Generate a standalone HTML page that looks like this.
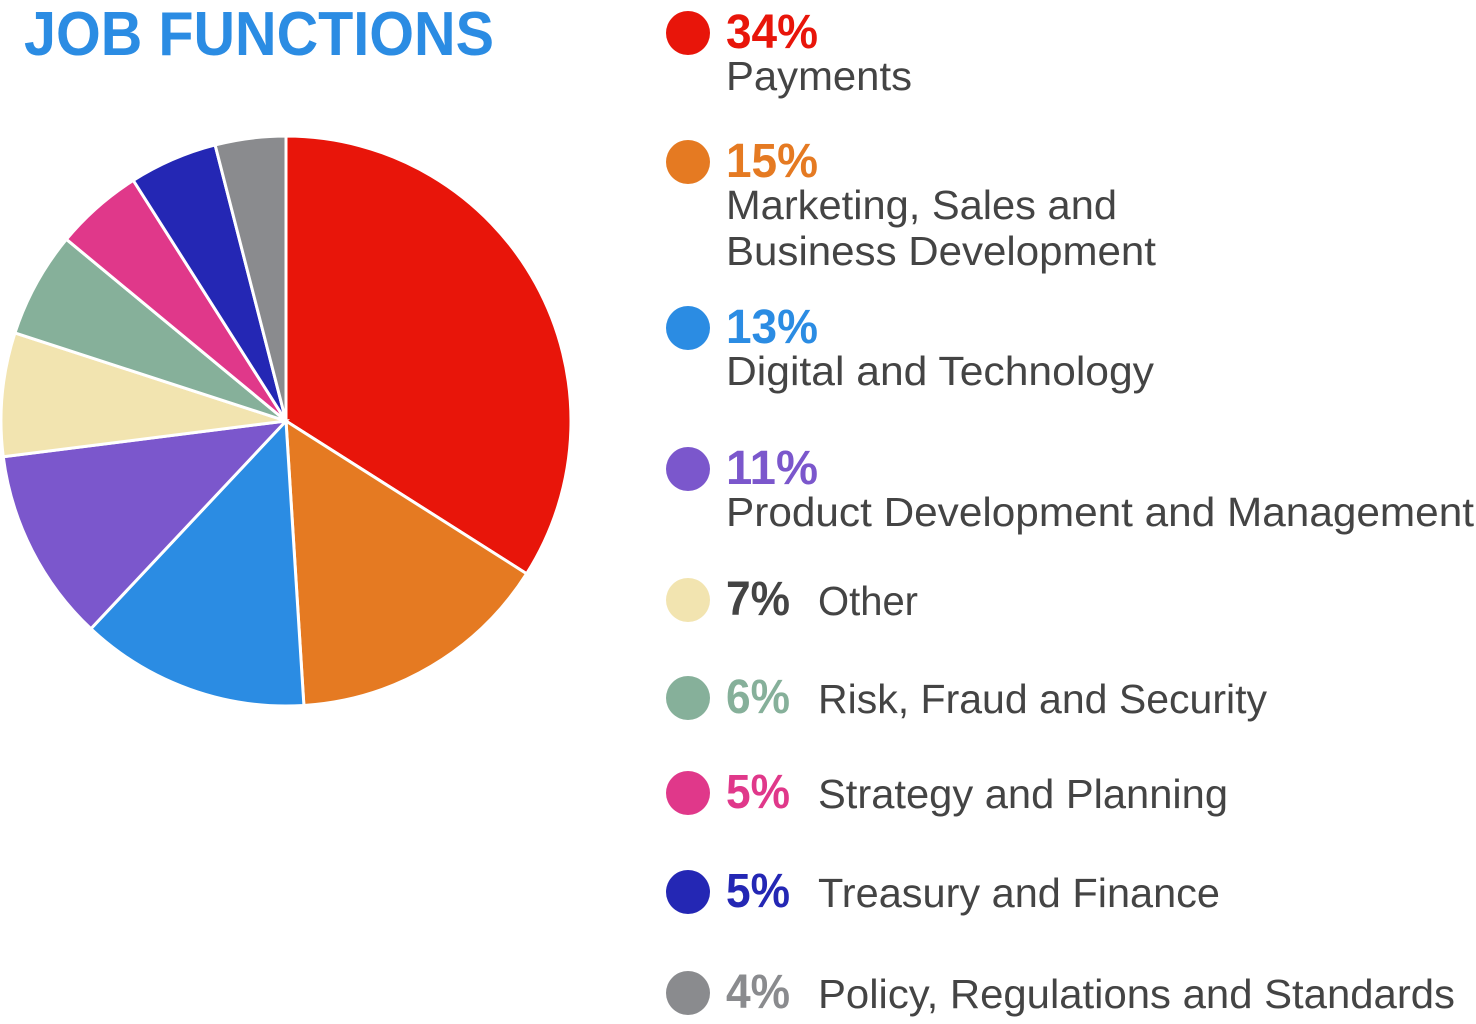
<!DOCTYPE html>
<html><head><meta charset="utf-8"><style>
html,body{margin:0;padding:0;background:#fff;}
svg{display:block;font-family:"Liberation Sans",sans-serif;}
</style></head><body>
<svg id="chart" width="1476" height="1024" viewBox="0 0 1476 1024">
<text x="24" y="55" font-size="62" font-weight="bold" fill="#2b8ce3" textLength="470" lengthAdjust="spacingAndGlyphs">JOB FUNCTIONS</text>
<g id="pie"></g>
<g id="legend"></g>
</svg>
<script>
const categories=["Payments","Marketing, Sales and Business Development","Digital and Technology","Product Development and Management","Other","Risk, Fraud and Security","Strategy and Planning","Treasury and Finance","Policy, Regulations and Standards"];
const values=[34,15,13,11,7,6,5,5,4];
const colors=["#e8150a","#e57a22","#2b8ce3","#7b57cc","#f2e4b0","#86b09a","#e0388a","#2427b4","#8a8b8e"];
const pctColors=["#e8150a","#e57a22","#2b8ce3","#7b57cc","#444444","#86b09a","#e0388a","#2427b4","#8a8b8e"];
const labelLines=[["Payments"],["Marketing, Sales and","Business Development"],["Digital and Technology"],["Product Development and Management"],["Other"],["Risk, Fraud and Security"],["Strategy and Planning"],["Treasury and Finance"],["Policy, Regulations and Standards"]];
const NS="http://www.w3.org/2000/svg";
const cx=286,cy=421,r=285;
const total=values.reduce((a,b)=>a+b,0);
const pie=document.getElementById('pie');
let a0=-Math.PI/2;
values.forEach((v,i)=>{
  const a1=a0+v/total*2*Math.PI;
  const x0=cx+r*Math.cos(a0),y0=cy+r*Math.sin(a0),x1=cx+r*Math.cos(a1),y1=cy+r*Math.sin(a1);
  const p=document.createElementNS(NS,'path');
  p.setAttribute('d',`M${cx},${cy}L${x0},${y0}A${r},${r} 0 ${a1-a0>Math.PI?1:0} 1 ${x1},${y1}Z`);
  p.setAttribute('fill',colors[i]);p.setAttribute('stroke','#fff');p.setAttribute('stroke-width','3');
  
  
  pie.appendChild(p);a0=a1;
});
// layout
const circY=[33,162,328,469,600,698,793,892,993];
const pctW=[92,92,92,92,64,64,64,64,64];
const lineW=[[186],[391,430],[428],[748],[100],[449],[410],[402],[637]];
const lg=document.getElementById('legend');
values.forEach((v,i)=>{
  const g=document.createElementNS(NS,'g');
  
  
  const c=document.createElementNS(NS,'circle');
  c.setAttribute('cx',688);c.setAttribute('cy',circY[i]);c.setAttribute('r',22);c.setAttribute('fill',colors[i]);
  
  
  g.appendChild(c);
  const t=document.createElementNS(NS,'text');
  t.setAttribute('x',726);t.setAttribute('y',circY[i]+15);t.setAttribute('font-size',48);t.setAttribute('font-weight','bold');
  t.setAttribute('fill',pctColors[i]);t.setAttribute('textLength',pctW[i]);t.setAttribute('lengthAdjust','spacingAndGlyphs');
  t.textContent=v+'%';
  
  
  g.appendChild(t);
  labelLines[i].forEach((ln,j)=>{
    const l=document.createElementNS(NS,'text');
    const inline=i>=4;
    l.setAttribute('x',inline?818:726);
    l.setAttribute('y',inline?circY[i]+15:circY[i]+57+j*46);
    l.setAttribute('font-size',41);l.setAttribute('fill','#444');
    l.setAttribute('textLength',lineW[i][j]);l.setAttribute('lengthAdjust','spacingAndGlyphs');
    l.textContent=ln;
    
    
    g.appendChild(l);
  });
  lg.appendChild(g);
});
</script>
</body></html>
